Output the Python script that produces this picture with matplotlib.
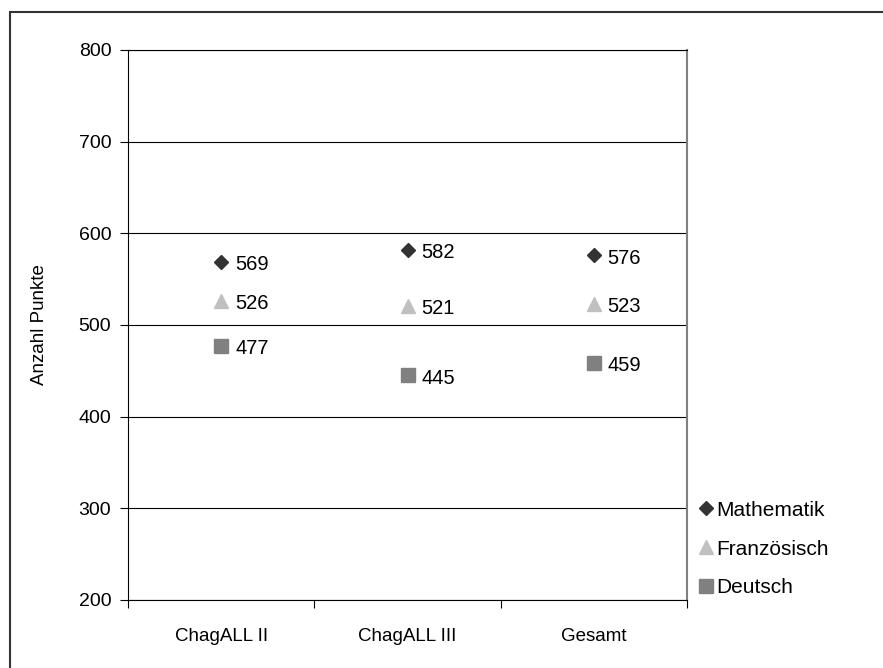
import matplotlib
matplotlib.use("Agg")
import matplotlib.pyplot as plt
from matplotlib.patches import Rectangle

plt.rcParams['font.family'] = ['Liberation Sans', 'DejaVu Sans']

categories = ["ChagALL II", "ChagALL III", "Gesamt"]
mathematik = [569, 582, 576]
franzoesisch = [526, 521, 523]
deutsch = [477, 445, 459]
series_names = ["Mathematik", "Französisch", "Deutsch"]
yticks = [200, 300, 400, 500, 600, 700, 800]

fig = plt.figure(figsize=(8.83, 6.68), dpi=100)
ax = fig.add_axes([128/883, 1 - 600/668, (687-128)/883, (600-50)/668])

# outer frame
fig.patches.append(Rectangle((10/883, -0.05), 1.2, (668-12)/668 + 0.05,
                             transform=fig.transFigure, fill=False,
                             edgecolor='#333333', linewidth=1.5))

styles = [
    dict(marker='D', color='#333333', ms=7.5),
    dict(marker='^', color='#c0c0c0', ms=10),
    dict(marker='s', color='#808080', ms=9.5),
]
xs = list(range(len(categories)))
for vals, name, st in zip([mathematik, franzoesisch, deutsch], series_names, styles):
    ax.plot(xs, vals, linestyle='none', marker=st['marker'], color=st['color'],
            markersize=st['ms'], label=name)
    for x, v in zip(xs, vals):
        ax.annotate(str(v), (x, v), xytext=(10, -2), textcoords='offset points',
                    ha='left', va='center', fontsize=14.5)

ax.set_xlim(-0.5, 2.5)
ax.set_ylim(200, 800)
ax.set_yticks(yticks)
ax.set_yticklabels([str(t) for t in yticks], fontsize=14)
ax.yaxis.grid(True, color='black', linewidth=0.8)
ax.set_axisbelow(True)
ax.set_xticks([-0.5, 0.5, 1.5, 2.5])
ax.set_xticklabels([])
ax.set_xticks(xs, minor=True)
ax.set_xticklabels(categories, minor=True, fontsize=13.5)
ax.tick_params(axis='x', which='minor', length=0, pad=20)
ax.tick_params(axis='x', which='major', length=6, direction='out')
ax.tick_params(axis='y', length=6, direction='out', pad=6)
ax.set_ylabel("Anzahl Punkte", fontsize=13.5, labelpad=22)

for s in ['left', 'bottom', 'top']:
    ax.spines[s].set_color('black')
ax.spines['right'].set_color('#808080')
ax.spines['right'].set_linewidth(1.5)

leg = fig.legend(loc='upper left', bbox_to_anchor=(675/883, 1 - 482/668), frameon=False,
                 fontsize=15, handletextpad=-0.1, labelspacing=0.95, handlelength=1.2)

fig.savefig("out.png", dpi=100)
